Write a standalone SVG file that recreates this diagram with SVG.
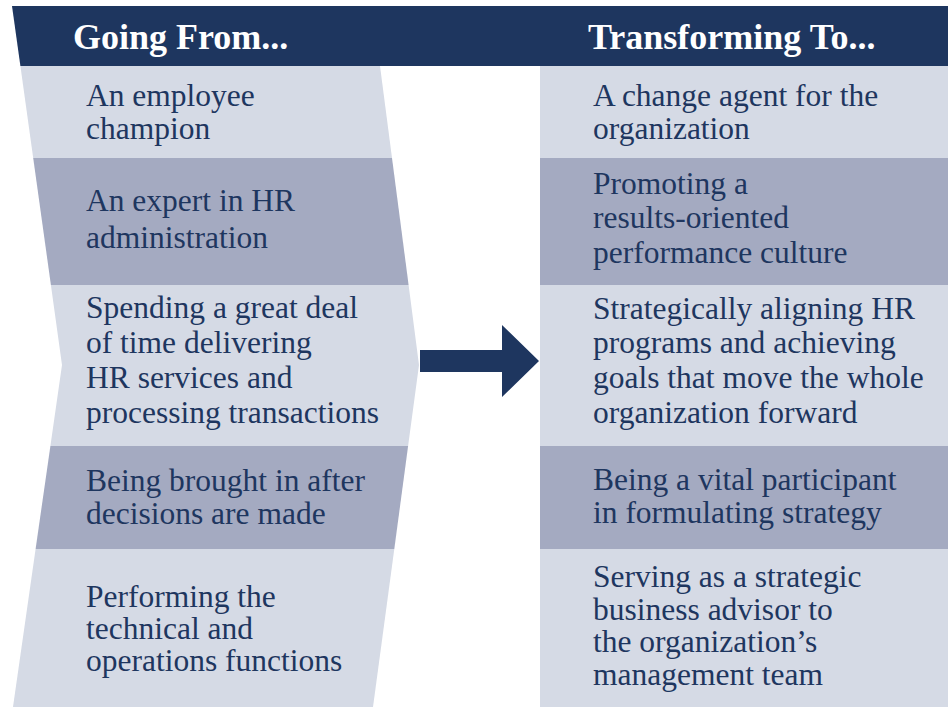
<svg xmlns="http://www.w3.org/2000/svg" width="948" height="707" viewBox="0 0 948 707">
<style>
.hdr{fill:#1e365f}
.lt{fill:#d5dae5}
.dk{fill:#a4aac1}
.ht{font-family:"Liberation Serif","Times New Roman",serif;font-weight:bold;font-size:36px;fill:#ffffff}
.bt{font-family:"Liberation Serif","Times New Roman",serif;font-size:31.5px;fill:#1e365f}
</style>
<rect width="948" height="707" fill="#ffffff"/>
<g id="header">
<polygon class="hdr" points="12,6 948,6 948,66 20.4,66"/>
<text class="ht" x="73" y="49">Going From...</text>
<text class="ht" x="588" y="49">Transforming To...</text>
</g>
<g id="from-1">
<polygon class="lt" points="20.4,66 380,66 392,158 33.2,158"/>
<text class="bt"><tspan x="86" y="106">An employee</tspan><tspan x="86" y="139">champion</tspan></text>
</g>
<g id="from-2">
<polygon class="dk" points="33.2,158 392,158 408.6,285 50.9,285"/>
<text class="bt"><tspan x="86" y="211">An expert in HR</tspan><tspan x="86" y="248">administration</tspan></text>
</g>
<g id="from-3">
<polygon class="lt" points="50.9,285 408.6,285 419,365 408.1,446 50.4,446 62,365"/>
<text class="bt"><tspan x="86" y="318">Spending a great deal</tspan><tspan x="86" y="353">of time delivering</tspan><tspan x="86" y="388">HR services and</tspan><tspan x="86" y="423">processing transactions</tspan></text>
</g>
<g id="from-4">
<polygon class="dk" points="50.4,446 408.1,446 394.3,549 35.6,549"/>
<text class="bt"><tspan x="86" y="491">Being brought in after</tspan><tspan x="86" y="524">decisions are made</tspan></text>
</g>
<g id="from-5">
<polygon class="lt" points="35.6,549 394.3,549 373,707 13,707"/>
<text class="bt"><tspan x="86" y="607">Performing the</tspan><tspan x="86" y="639">technical and</tspan><tspan x="86" y="671">operations functions</tspan></text>
</g>
<g id="to-1">
<rect class="lt" x="540" y="66" width="408" height="92"/>
<text class="bt"><tspan x="593" y="106">A change agent for the</tspan><tspan x="593" y="139">organization</tspan></text>
</g>
<g id="to-2">
<rect class="dk" x="540" y="158" width="408" height="127"/>
<text class="bt"><tspan x="593" y="194">Promoting a</tspan><tspan x="593" y="228">results-oriented</tspan><tspan x="593" y="263">performance culture</tspan></text>
</g>
<g id="to-3">
<rect class="lt" x="540" y="285" width="408" height="161"/>
<text class="bt"><tspan x="593" y="319">Strategically aligning HR</tspan><tspan x="593" y="353">programs and achieving</tspan><tspan x="593" y="388">goals that move the whole</tspan><tspan x="593" y="423">organization forward</tspan></text>
</g>
<g id="to-4">
<rect class="dk" x="540" y="446" width="408" height="103"/>
<text class="bt"><tspan x="593" y="490">Being a vital participant</tspan><tspan x="593" y="523">in formulating strategy</tspan></text>
</g>
<g id="to-5">
<rect class="lt" x="540" y="549" width="408" height="158"/>
<text class="bt"><tspan x="593" y="587">Serving as a strategic</tspan><tspan x="593" y="619.5">business advisor to</tspan><tspan x="593" y="652">the organization’s</tspan><tspan x="593" y="684.5">management team</tspan></text>
</g>
<g id="connectors">
<polygon class="hdr" points="420,350 502,350 502,325 539,361 502,397 502,372 420,372"/>
</g>
</svg>
